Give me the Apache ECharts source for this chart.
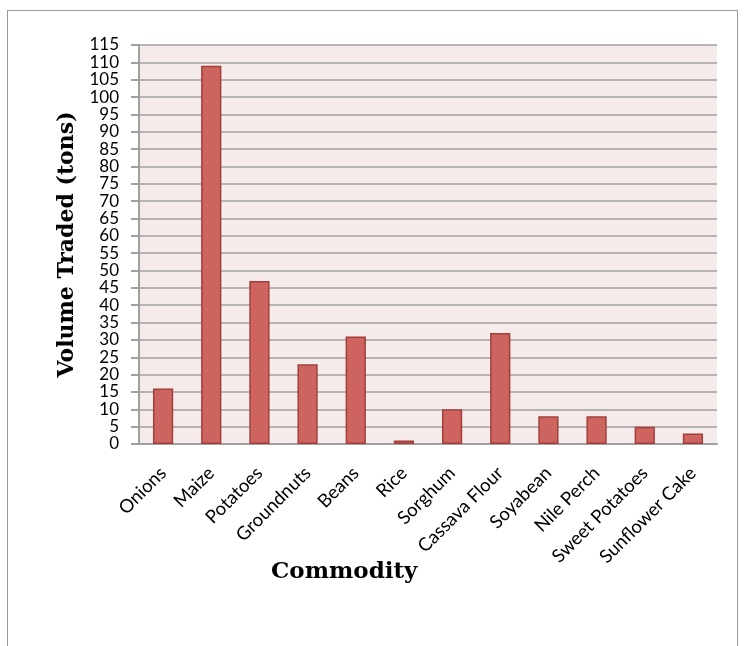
<!DOCTYPE html>
<html>
<head>
<meta charset="utf-8">
<style>
  html, body { margin: 0; padding: 0; background: #fff; }
  #frame { position: absolute; left: 7px; top: 10px; width: 729px; height: 700px; border: 1px solid #9a9a9a; }
  #chart { position: absolute; left: 0; top: 0; width: 745px; height: 646px; }
</style>
<script src="https://cdn.jsdelivr.net/npm/echarts@6/dist/echarts.min.js"></script>
</head>
<body>
<div id="frame"></div>
<div id="chart"></div>
<script>
// commodities and traded volume (tons)
const commodities = ['Onions', 'Maize', 'Potatoes', 'Groundnuts', 'Beans', 'Rice', 'Sorghum',
  'Cassava Flour', 'Soyabean', 'Nile Perch', 'Sweet Potatoes', 'Sunflower Cake']
const volumes = [16, 109, 47, 23, 31, 1, 10, 32, 8, 8, 5, 3]

const chart = echarts.init(document.getElementById('chart'))
chart.setOption({
  animation: false,
  grid: {
    left: 139,
    right: 28,
    top: 45,
    bottom: 202,
    show: true,
    backgroundColor: '#f4ebea',
    borderWidth: 0
  },
  graphic: [{
    type: 'text',
    left: 271,
    top: 561,
    style: {
      text: 'Commodity',
      font: 'bold 23px "DejaVu Serif"',
      fill: '#000'
    }
  }],
  xAxis: {
    type: 'category',
    data: commodities,
    axisLine: { lineStyle: { color: '#a0a0a0', width: 2 } },
    axisTick: { length: 7, lineStyle: { color: '#a0a0a0', width: 2 } },
    axisLabel: {
      rotate: 45,
      interval: 0,
      margin: 26,
      hideOverlap: false,
      color: '#000',
      fontFamily: 'Lato',
      fontSize: 18.5
    }
  },
  yAxis: {
    type: 'value',
    min: 0,
    max: 115,
    interval: 5,
    name: 'Volume Traded (tons)',
    nameLocation: 'middle',
    nameGap: 60,
    nameTextStyle: {
      fontFamily: 'DejaVu Serif',
      fontWeight: 'bold',
      fontSize: 22,
      color: '#000'
    },
    axisLine: { show: true, lineStyle: { color: '#a0a0a0', width: 2 } },
    axisTick: { show: true, length: 8, lineStyle: { color: '#a0a0a0', width: 2 } },
    splitLine: { lineStyle: { color: '#a0a0a0', width: 1.5 } },
    axisLabel: {
      margin: 20,
      showMinLabel: true,
      showMaxLabel: true,
      hideOverlap: false,
      color: '#000',
      fontFamily: 'Lato',
      fontSize: 17
    }
  },
  series: [{
    type: 'bar',
    data: volumes,
    barWidth: '42%',
    itemStyle: {
      color: '#cd645f',
      borderColor: '#a23f3b',
      borderWidth: 1.5
    }
  }]
})
</script>
</body>
</html>
